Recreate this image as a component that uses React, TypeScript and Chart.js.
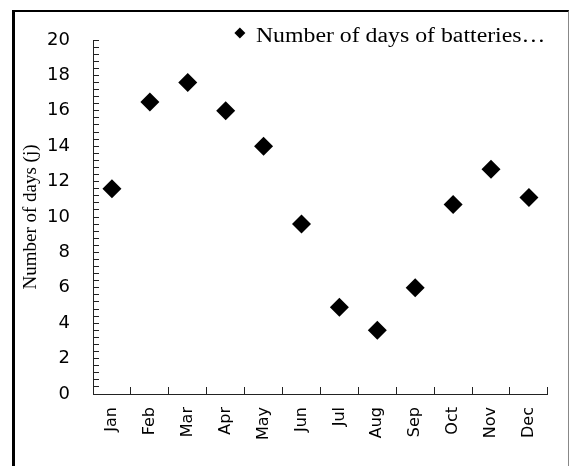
import React, { useEffect, useRef } from "react";
import { Chart, registerables } from "chart.js";

Chart.register(...registerables);

const months = ["Jan", "Feb", "Mar", "Apr", "May", "Jun", "Jul", "Aug", "Sep", "Oct", "Nov", "Dec"];
const daysValues = [11.6, 16.5, 17.6, 16.0, 14.0, 9.6, 4.9, 3.6, 6.0, 10.7, 12.7, 11.1];
const seriesLabel = "Number of days of batteries\u2026";
const yTitle = "Number of days (j)";
const yMin = 0;
const yMax = 20;
const yMajorStep = 2;
const yMinorStep = 0.4;

const legendPlugin = {
  id: "excelLegend",
  afterDraw(chart: any) {
    const { ctx, chartArea } = chart;
    const ds = chart.data.datasets[0];
    ctx.save();
    const cx = chartArea.right - 308;
    const cy = chartArea.top - 7;
    const r = 5.5;
    ctx.fillStyle = ds.backgroundColor;
    ctx.beginPath();
    ctx.moveTo(cx - r, cy);
    ctx.lineTo(cx, cy - r);
    ctx.lineTo(cx + r, cy);
    ctx.lineTo(cx, cy + r);
    ctx.closePath();
    ctx.fill();
    ctx.font = '20px "Liberation Serif"';
    ctx.fillStyle = "#000";
    ctx.textBaseline = "alphabetic";
    ctx.translate(cx + 16, chartArea.top + 2);
    ctx.scale(1.19, 1);
    ctx.fillText(ds.label, 0, 0);
    ctx.restore();
  },
};

export default function App() {
  const ref = useRef<HTMLCanvasElement>(null);

  useEffect(() => {
    if (!ref.current) return;
    const axisColor = "#222";
    const chart = new Chart(ref.current, {
      type: "line",
      data: {
        labels: months,
        datasets: [
          {
            label: seriesLabel,
            data: daysValues,
            showLine: false,
            pointStyle: "rectRot",
            pointRadius: 9.5,
            pointHoverRadius: 9.5,
            backgroundColor: "#000",
            borderColor: "#000",
            borderWidth: 0,
          },
        ],
      },
      options: {
        animation: false,
        responsive: false,
        maintainAspectRatio: false,
        layout: { padding: { top: 40, right: 21, bottom: 0, left: 0 } },
        plugins: {
          legend: { display: false },
          tooltip: { enabled: false },
        },
        scales: {
          x: {
            type: "category",
            offset: true,
            grid: {
              offset: true,
              drawOnChartArea: false,
              drawTicks: true,
              tickLength: -7,
              color: axisColor,
            },
            border: { display: true, color: axisColor, width: 1 },
            ticks: {
              autoSkip: false,
              maxRotation: 90,
              minRotation: 90,
              padding: 20,
              color: "#000",
              font: { family: '"DejaVu Sans"', size: 16 },
            },
            afterFit(scale: any) {
              scale.height = 72;
            },
          },
          y: {
            type: "linear",
            min: yMin,
            max: yMax,
            grid: {
              drawOnChartArea: false,
              drawTicks: true,
              tickLength: -6,
              color: axisColor,
            },
            border: { display: true, color: axisColor, width: 1 },
            ticks: {
              stepSize: yMinorStep,
              autoSkip: false,
              padding: 29,
              color: "#000",
              font: { family: '"DejaVu Sans"', size: 18 },
              callback: (v: any) => {
                const n = Number(v);
                const q = n / yMajorStep;
                return Math.abs(q - Math.round(q)) < 1e-6 ? String(Math.round(n)) : "";
              },
            },
            title: {
              display: true,
              text: yTitle,
              color: "#000",
              font: { family: '"Liberation Serif"', size: 19 },
              padding: { top: 20, bottom: 0 },
            },
            afterFit(scale: any) {
              scale.width = 93;
            },
          },
        },
      },
      plugins: [legendPlugin],
    });
    return () => chart.destroy();
  }, []);

  return (
    <div
      style={{
        position: "absolute",
        left: 0,
        top: 0,
        width: 569,
        height: 466,
        overflow: "hidden",
        background: "#fff",
      }}
    >
      <div
        style={{
          position: "absolute",
          left: 12,
          top: 10,
          width: 553,
          height: 480,
          borderLeft: "3px solid #000",
          borderTop: "2px solid #000",
          borderRight: "1px solid #888",
        }}
      />
      <canvas
        ref={ref}
        width={569}
        height={466}
        style={{ position: "absolute", left: 0, top: 0, width: 569, height: 466 }}
      />
    </div>
  );
}
